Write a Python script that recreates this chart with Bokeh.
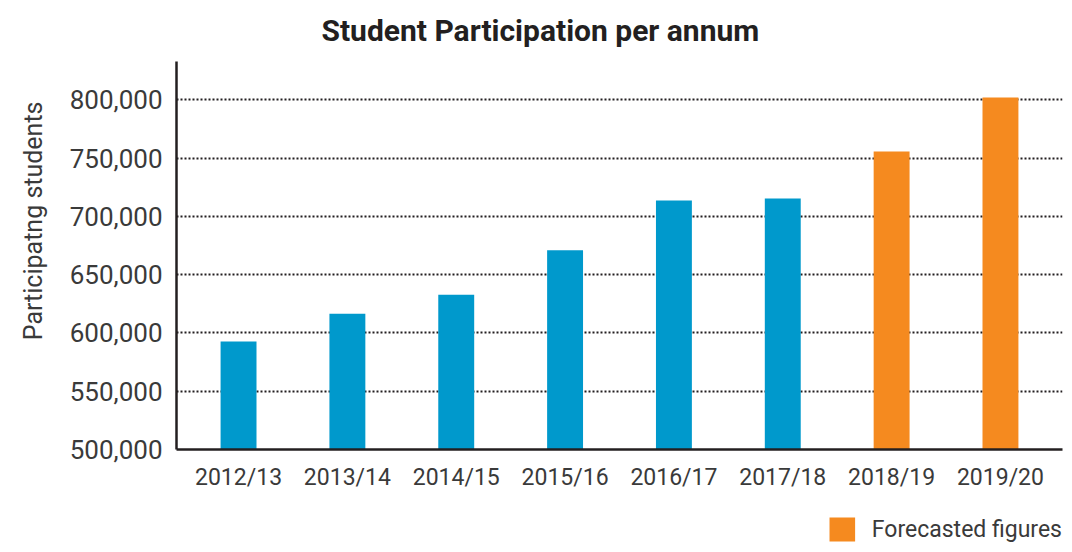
from bokeh.plotting import figure
from bokeh.layouts import column
from bokeh.models import (ColumnDataSource, FactorRange, Range1d, NumeralTickFormatter,
                          Legend, LegendItem, FixedTicker, Title)
from bokeh.embed import file_html
from bokeh.resources import INLINE

years = ["2012/13", "2013/14", "2014/15", "2015/16", "2016/17", "2017/18", "2018/19", "2019/20"]
participants = [592700, 616600, 632900, 670900, 713700, 715500, 755800, 802100]
forecast = [False, False, False, False, False, False, True, True]
y_ticks = [500000, 550000, 600000, 650000, 700000, 750000, 800000]

title_text = "Student Participation per annum"
y_label_text = "Participatng students"
legend_text = "Forecasted figures"

BLUE = "#0099cc"
ORANGE = "#f58a1f"
INK = "#231f20"
TEXT = "#3a3a3a"

actual_src = ColumnDataSource(dict(
    year=[y for y, f in zip(years, forecast) if not f],
    value=[v for v, f in zip(participants, forecast) if not f]))
fc_src = ColumnDataSource(dict(
    year=[y for y, f in zip(years, forecast) if f],
    value=[v for v, f in zip(participants, forecast) if f]))

p = figure(width=1064, height=504,
           x_range=FactorRange(*years, range_padding=0.07, range_padding_units="absolute"),
           y_range=Range1d(500000, 833000),
           output_backend="svg", toolbar_location=None,
           min_border_left=176, min_border_right=2, min_border_top=60, min_border_bottom=55)
p.outline_line_color = None
p.background_fill_color = "white"
p.border_fill_color = "white"

# title
p.title.text = title_text
p.title.align = "left"
p.title.offset = 145
p.title.vertical_align = "top"
p.title.standoff = 24
p.title.text_font = "Roboto"
p.title.text_font_style = "bold"
p.title.text_font_size = "30px"
p.title.text_color = INK

p.vbar(x="year", top="value", width=0.33, source=actual_src, fill_color=BLUE, line_color=None)
p.vbar(x="year", top="value", width=0.33, source=fc_src, fill_color=ORANGE, line_color=None)

# axes
for ax in (p.xaxis[0], p.yaxis[0]):
    ax.axis_line_color = INK
    ax.axis_line_width = 2.5
    ax.major_tick_line_color = None
    ax.minor_tick_line_color = None
    ax.major_label_text_font = "Roboto"
    ax.major_label_text_color = TEXT

p.yaxis.ticker = FixedTicker(ticks=y_ticks)
p.yaxis.formatter = NumeralTickFormatter(format="0,0")
p.yaxis.major_label_text_font_size = "26px"
p.yaxis.major_label_standoff = 8
p.xaxis.major_label_text_font_size = "23px"
p.xaxis.major_label_standoff = 8

p.xgrid.grid_line_color = None
p.ygrid.ticker = FixedTicker(ticks=y_ticks)
p.ygrid.grid_line_color = INK
p.ygrid.grid_line_width = 2
p.ygrid.grid_line_dash = "2 2"

# y axis title on the left side
p.add_layout(Title(text=y_label_text, align="right", offset=40, vertical_align="top",
                   standoff=34, text_font="Roboto", text_font_style="normal",
                   text_font_size="25px", text_color=TEXT), "left")

# legend strip below the chart (legend key references a hidden copy of the forecast bars)
leg = figure(width=1064, height=40, output_backend="svg", toolbar_location=None,
             title=None, x_range=FactorRange(*years), y_range=Range1d(0, 1),
             x_axis_location=None, y_axis_location=None, min_border=0)
leg.outline_line_color = None
leg.xgrid.grid_line_color = None
leg.ygrid.grid_line_color = None
r_leg = leg.vbar(x="year", top="value", width=0.33, source=fc_src,
                 fill_color=ORANGE, line_color=None)
r_leg.visible = False
legend = Legend(items=[LegendItem(label=legend_text, renderers=[r_leg])],
                location="bottom_right", padding=0, margin=0, border_line_color=None,
                background_fill_alpha=0, glyph_width=32, glyph_height=30,
                label_height=30, label_standoff=14, label_text_font="Roboto",
                label_text_font_size="23px", label_text_color=TEXT,
                inactive_fill_alpha=0)
leg.add_layout(legend)

layout = column(p, leg, spacing=0)
open("out.html", "w").write(file_html(layout, INLINE))
